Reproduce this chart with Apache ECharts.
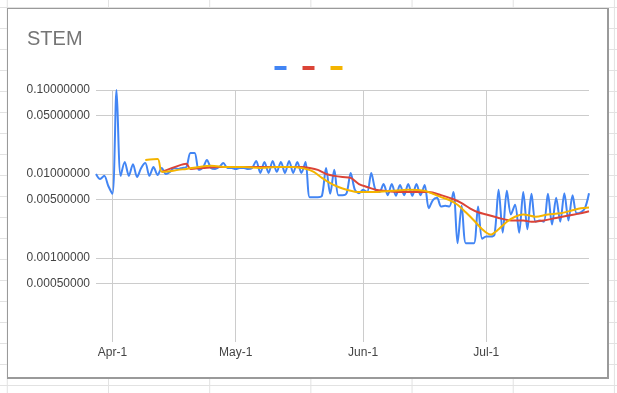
<!DOCTYPE html>
<html>
<head>
<meta charset="utf-8">
<script src="https://cdn.jsdelivr.net/npm/echarts@6/dist/echarts.min.js"></script>
<style>
  html, body { margin: 0; padding: 0; }
  body {
    width: 617px; height: 393px; overflow: hidden; position: relative;
    background-color: #fff;
    background-image:
      linear-gradient(to right, #e2e2e2 1px, transparent 1px),
      linear-gradient(to bottom, #e2e2e2 1px, transparent 1px);
    background-size: 101.2px 21px;
    background-position: 6.8px 7px;
  }
  #frame {
    position: absolute; left: 7px; top: 8px; width: 599px; height: 368px;
    background: #fff; border: 1px solid #9a9a9a;
    border-right: 2px solid #9a9a9a; border-bottom: 2px solid #9a9a9a;
  }
  #chart { position: absolute; left: 0; top: 0; width: 617px; height: 393px; }
</style>
</head>
<body>
<div id="frame"></div>
<div id="chart"></div>
<script>
// ---- data ----
const title = 'STEM';
const seriesNames = ['STEM', 'MA 30', 'MA 7'];
const blueStart = '2023-03-28';   // first day of the daily blue series
const blueValues = [
  0.0100, 0.0087, 0.0095, 0.0072, 0.0058, 0.1000, 0.0095, 0.0139, 0.0095, 0.0131,
  0.0092, 0.0118, 0.0135, 0.0095, 0.0121, 0.0097, 0.0118, 0.0100, 0.0106, 0.0118,
  0.0115, 0.0118, 0.0121, 0.0178, 0.0178, 0.0112, 0.0118, 0.0147, 0.0118, 0.0115,
  0.0121, 0.0135, 0.0118, 0.0118, 0.0115, 0.0118, 0.0118, 0.0115, 0.0118, 0.0143,
  0.0103, 0.0139, 0.0103, 0.0143, 0.0106, 0.0139, 0.0103, 0.0143, 0.0103, 0.0139,
  0.0103, 0.0139, 0.0053, 0.0053, 0.0053, 0.0055, 0.0118, 0.0058, 0.0112, 0.0056,
  0.0056, 0.0059, 0.0103, 0.0065, 0.0059, 0.0065, 0.0061, 0.0103, 0.0065, 0.0061,
  0.0076, 0.0056, 0.0076, 0.0055, 0.0074, 0.0056, 0.0076, 0.0055, 0.0076, 0.0056,
  0.0074, 0.0039, 0.0049, 0.0052, 0.0041, 0.0042, 0.0041, 0.0061, 0.0015, 0.0042,
  0.0015, 0.0015, 0.0015, 0.0041, 0.0017, 0.0018, 0.0018, 0.0019, 0.0065, 0.0020,
  0.0063, 0.0033, 0.0043, 0.0020, 0.0061, 0.0022, 0.0058, 0.0027, 0.0028, 0.0027,
  0.0058, 0.0025, 0.0052, 0.0027, 0.0059, 0.0028, 0.0056, 0.0034, 0.0035, 0.0039,
  0.0059
];
const redDates = [
  '2023-04-13','2023-04-17','2023-04-19','2023-04-20','2023-04-23','2023-04-27',
  '2023-05-02','2023-05-07','2023-05-12','2023-05-17','2023-05-19','2023-05-21',
  '2023-05-23','2023-05-25','2023-05-27','2023-05-29','2023-05-31','2023-06-02',
  '2023-06-04','2023-06-06','2023-06-10','2023-06-14','2023-06-17','2023-06-20',
  '2023-06-23','2023-06-25','2023-06-27','2023-06-29','2023-07-01','2023-07-04',
  '2023-07-07','2023-07-10','2023-07-12','2023-07-15','2023-07-18','2023-07-21',
  '2023-07-24','2023-07-26'
];
const redValues = [
  0.0106, 0.0125, 0.0132, 0.0115, 0.0118, 0.0121,
  0.0121, 0.0121, 0.0121, 0.0121, 0.0118, 0.0112,
  0.0100, 0.0095, 0.0092, 0.0090, 0.0076, 0.0070,
  0.0065, 0.0063, 0.0061, 0.0061, 0.0061, 0.0056,
  0.0050, 0.0045, 0.0039, 0.0035, 0.0033, 0.0030,
  0.0028, 0.0028, 0.0027, 0.0028, 0.0030, 0.0032,
  0.0034, 0.0036
];
const yellowDates = [
  '2023-04-09','2023-04-12','2023-04-13','2023-04-15','2023-04-17','2023-04-19',
  '2023-04-22','2023-04-25','2023-04-29','2023-05-03','2023-05-07','2023-05-11',
  '2023-05-15','2023-05-18','2023-05-20','2023-05-22','2023-05-24','2023-05-26',
  '2023-05-28','2023-05-31','2023-06-04','2023-06-08','2023-06-12','2023-06-16',
  '2023-06-18','2023-06-20','2023-06-22','2023-06-24','2023-06-26','2023-06-28',
  '2023-06-30','2023-07-02','2023-07-04','2023-07-06','2023-07-08','2023-07-10',
  '2023-07-13','2023-07-16','2023-07-19','2023-07-22','2023-07-24','2023-07-26'
];
const yellowValues = [
  0.0147, 0.0151, 0.0106, 0.0108, 0.0112, 0.0115,
  0.0121, 0.0125, 0.0121, 0.0121, 0.0118, 0.0121,
  0.0121, 0.0115, 0.0106, 0.0090, 0.0078, 0.0070,
  0.0065, 0.0061, 0.0061, 0.0063, 0.0065, 0.0063,
  0.0058, 0.0053, 0.0049, 0.0043, 0.0035, 0.0028,
  0.0022, 0.0019, 0.0022, 0.0027, 0.0031, 0.0033,
  0.0031, 0.0033, 0.0034, 0.0037, 0.0039, 0.0040
];
const yTicks = [0.1, 0.05, 0.01, 0.005, 0.001, 0.0005];
const xTickDates = ['2023-04-01', '2023-05-01', '2023-06-01', '2023-07-01'];
const xTickLabels = ['Apr-1', 'May-1', 'Jun-1', 'Jul-1'];
const xMin = '2023-03-28', xMax = '2023-07-26';
const yMin = 0.0001, yMax = 0.1;

// ---- build ----
const DAY = 86400000;
const t0 = new Date(blueStart + 'T00:00:00Z').getTime();
const blueData = blueValues.map((v, i) => [t0 + i * DAY, v]);
const toT = s => new Date(s + 'T00:00:00Z').getTime();
const redData = redDates.map((d, i) => [toT(d), redValues[i]]);
const yellowData = yellowDates.map((d, i) => [toT(d), yellowValues[i]]);

const FONT = '"Liberation Sans", Arial, sans-serif';
const chart = echarts.init(document.getElementById('chart'), null, { renderer: 'canvas' });
chart.setOption({
  animation: false,
  backgroundColor: 'transparent',
  title: {
    text: title, left: 22, top: 24,
    textStyle: { color: '#757575', fontSize: 20, fontWeight: 'normal', fontFamily: FONT }
  },
  legend: {
    top: 61, left: 'center',
    icon: 'rect', itemWidth: 12, itemHeight: 4, itemGap: 16,
    formatter: () => '',
    data: seriesNames,
    selectedMode: false
  },
  grid: { left: 96, right: 28, top: 90, bottom: 51 },
  xAxis: {
    type: 'time', min: toT(xMin), max: toT(xMax),
    axisLine: { show: false }, axisTick: { show: false },
    axisLabel: { show: false }, splitLine: { show: false }
  },
  yAxis: {
    type: 'log', logBase: 10, min: yMin, max: yMax,
    axisLine: { show: false }, axisTick: { show: false },
    axisLabel: { show: false }, splitLine: { show: false }
  },
  series: [
    {
      name: seriesNames[0], type: 'line', data: blueData, showSymbol: false, smooth: 0.3,
      z: 2, lineStyle: { color: '#4285f4', width: 2 }, itemStyle: { color: '#4285f4' },
      markLine: {
        silent: true, symbol: 'none', animation: false, z: -1, precision: 10,
        lineStyle: { color: '#cccccc', width: 1, type: 'solid' },
        emphasis: { disabled: true },
        data: [
          ...yTicks.map(v => ({
            yAxis: v,
            label: { show: true, position: 'start', distance: 6, formatter: v.toFixed(8),
                     color: '#444', fontSize: 12, fontFamily: FONT }
          })),
          ...xTickDates.map((d, i) => ({
            xAxis: toT(d),
            label: { show: true, position: 'start', distance: 5, formatter: xTickLabels[i],
                     color: '#444', fontSize: 12, fontFamily: FONT }
          }))
        ]
      }
    },
    {
      name: seriesNames[1], type: 'line', data: redData, showSymbol: false, smooth: 0.3,
      z: 3, lineStyle: { color: '#db4437', width: 2 }, itemStyle: { color: '#db4437' }
    },
    {
      name: seriesNames[2], type: 'line', data: yellowData, showSymbol: false, smooth: 0.3,
      z: 4, lineStyle: { color: '#f4b400', width: 2 }, itemStyle: { color: '#f4b400' }
    }
  ]
});
</script>
</body>
</html>
